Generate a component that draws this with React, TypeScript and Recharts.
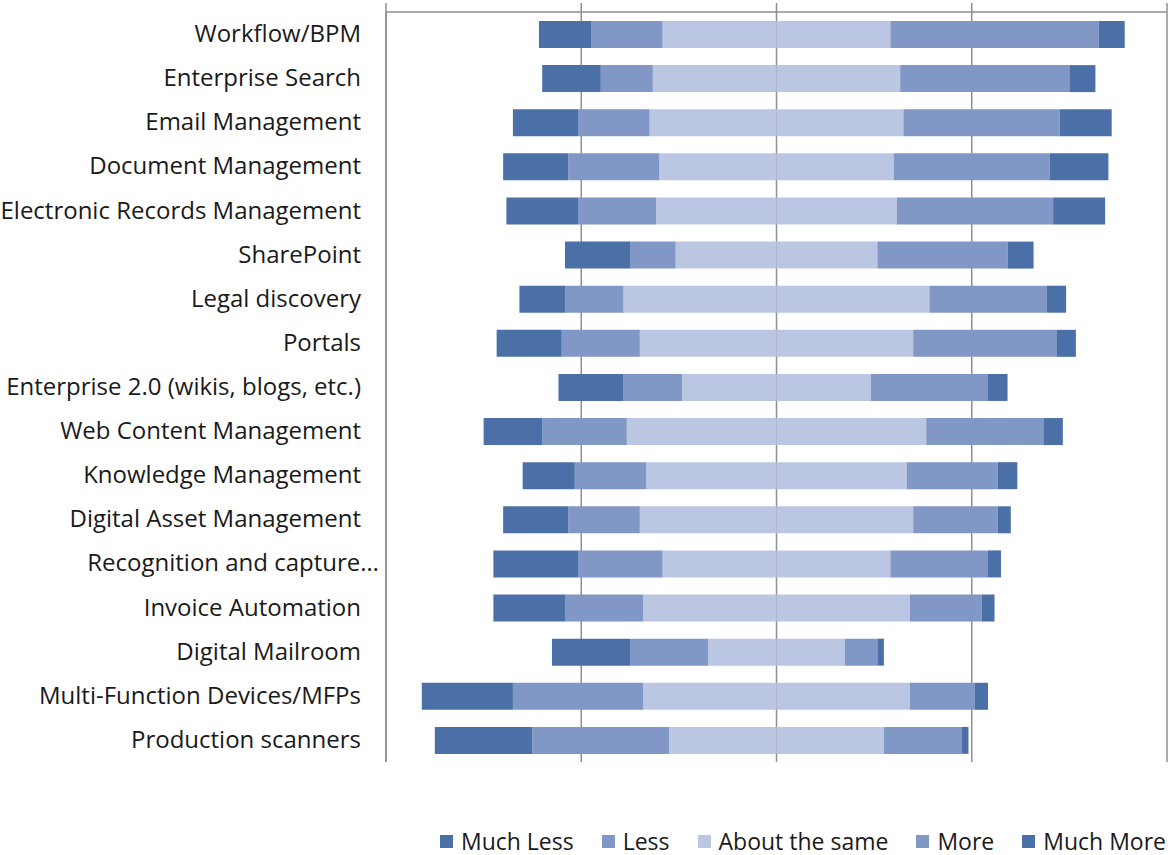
import { BarChart, Bar, XAxis, YAxis, CartesianGrid } from 'recharts';

const categories = [
  'Workflow/BPM',
  'Enterprise Search',
  'Email Management',
  'Document Management',
  'Electronic Records Management',
  'SharePoint',
  'Legal discovery',
  'Portals',
  'Enterprise 2.0 (wikis, blogs, etc.)',
  'Web Content Management',
  'Knowledge Management',
  'Digital Asset Management',
  'Recognition and capture…',
  'Invoice Automation',
  'Digital Mailroom',
  'Multi-Function Devices/MFPs',
  'Production scanners',
];

// percentages of respondents
const muchLess = [8, 9, 10, 10, 11, 10, 7, 10, 10, 9, 8, 10, 13, 11, 12, 14, 15];
const less = [11, 8, 11, 14, 12, 7, 9, 12, 9, 13, 11, 11, 13, 12, 12, 20, 21];
const aboutSame = [35, 38, 39, 36, 37, 31, 47, 42, 29, 46, 40, 42, 35, 41, 21, 41, 33];
const more = [32, 26, 24, 24, 24, 20, 18, 22, 18, 18, 14, 13, 15, 11, 5, 10, 12];
const muchMore = [4, 4, 8, 9, 8, 4, 3, 3, 3, 3, 3, 2, 2, 2, 1, 2, 1];

const xTicks = [-60, -30, 0, 30, 60];

const DARK = '#4a70a7';
const MID = '#8197c5';
const LIGHT = '#bbc7e2';
const GRID = '#8f8f8f';
const FONT = '"Open Sans", Lato, sans-serif';

const legendItems = [
  { label: 'Much Less', color: DARK },
  { label: 'Less', color: MID },
  { label: 'About the same', color: LIGHT },
  { label: 'More', color: MID },
  { label: 'Much More', color: DARK },
];

// diverging layout: "about the same" is split across zero
const rows = categories.map((name, i) => ({
  name,
  sameNeg: -aboutSame[i] / 2,
  samePos: aboutSame[i] / 2,
  less: -less[i],
  more: more[i],
  muchLess: -muchLess[i],
  muchMore: muchMore[i],
}));

function CategoryTick({ x, y, payload }: { x?: number; y?: number; payload?: { value: string } }) {
  const label = payload?.value ?? '';
  const shift = label.endsWith('…') ? 18 : 0;
  return (
    <text
      x={(x ?? 0) + shift}
      y={(y ?? 0) + 8}
      textAnchor="end"
      fill="#1a1a1a"
      fontSize={24}
      fontFamily={FONT}
    >
      {label}
    </text>
  );
}

export default function App() {
  return (
    <div style={{ position: 'absolute', left: 0, top: 0, width: 1170, height: 855, background: '#fff' }}>
      <BarChart
        width={1170}
        height={770}
        data={rows}
        layout="vertical"
        stackOffset="sign"
        barSize={27}
        margin={{ top: 0, right: 3, bottom: 8, left: 0 }}
      >
        <CartesianGrid horizontal={false} stroke={GRID} strokeWidth={1.5} />
        <XAxis
          type="number"
          orientation="top"
          domain={[-60, 60]}
          ticks={xTicks}
          height={12}
          tickSize={9}
          tickFormatter={() => ''}
          axisLine={{ stroke: GRID, strokeWidth: 1.5 }}
          tickLine={{ stroke: GRID, strokeWidth: 1.5 }}
        />
        <YAxis
          type="category"
          dataKey="name"
          width={386}
          tickSize={0}
          tickMargin={25}
          tickLine={false}
          axisLine={{ stroke: GRID, strokeWidth: 1.5 }}
          tick={<CategoryTick />}
          interval={0}
        />
        <Bar dataKey="sameNeg" stackId="a" fill={LIGHT} isAnimationActive={false} />
        <Bar dataKey="samePos" stackId="a" fill={LIGHT} isAnimationActive={false} />
        <Bar dataKey="less" stackId="a" fill={MID} isAnimationActive={false} />
        <Bar dataKey="more" stackId="a" fill={MID} isAnimationActive={false} />
        <Bar dataKey="muchLess" stackId="a" fill={DARK} isAnimationActive={false} />
        <Bar dataKey="muchMore" stackId="a" fill={DARK} isAnimationActive={false} />
      </BarChart>

      {/* Legend */}
      <div
        style={{
          position: 'absolute',
          right: 4,
          top: 826,
          display: 'flex',
          gap: 28,
          fontFamily: FONT,
          fontSize: 23,
          color: '#1a1a1a',
          lineHeight: '30px',
        }}
      >
        {legendItems.map((item) => (
          <div key={item.label} style={{ display: 'flex', alignItems: 'center', gap: 8 }}>
            <span style={{ width: 13, height: 13, background: item.color, display: 'inline-block' }} />
            <span>{item.label}</span>
          </div>
        ))}
      </div>
    </div>
  );
}
